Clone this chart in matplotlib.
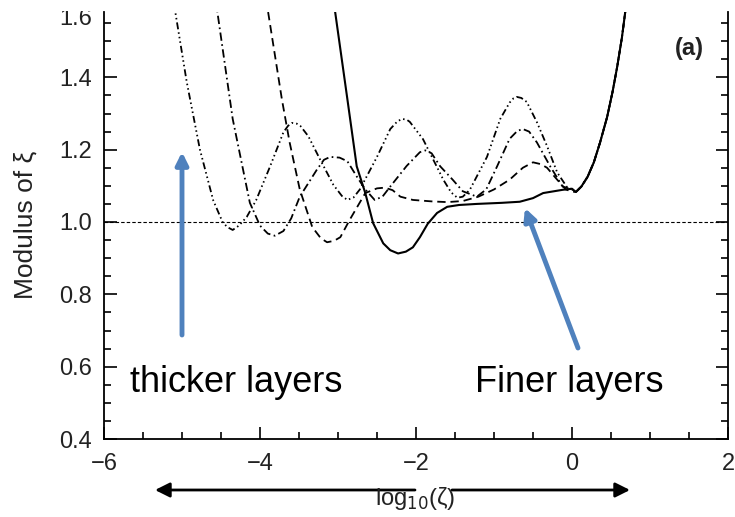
import matplotlib
matplotlib.use("Agg")
import matplotlib.pyplot as plt
from matplotlib.patches import Rectangle, FancyArrowPatch
import numpy as np

plt.rcParams['font.family'] = ['Liberation Sans', 'DejaVu Sans']
plt.rcParams['lines.scale_dashes'] = False

# ---- data ----
A_x = [-5.18, -5.09, -4.94, -4.77, -4.6, -4.48, -4.42, -4.35, -4.27, -4.17, -4.05, -3.87, -3.7, -3.64, -3.59,
       -3.53, -3.48, -3.38, -3.23, -3.06, -2.95, -2.88, -2.8, -2.72, -2.5, -2.33, -2.24, -2.18, -2.12, -2.08, -1.91, -1.78,
       -1.65, -1.55, -1.47, -1.4, -1.31, -1.09, -0.92, -0.8, -0.75, -0.71, -0.65, -0.58, -0.45, -0.32, -0.19, -0.06, 0.0]
A_y = [1.70, 1.586, 1.388, 1.20, 1.06, 1.0, 0.986, 0.978, 0.99, 1.014, 1.06, 1.154, 1.248, 1.266, 1.274,
       1.272, 1.265, 1.237, 1.173, 1.103, 1.072, 1.061, 1.068, 1.09, 1.18, 1.257, 1.278, 1.285, 1.283, 1.277, 1.229, 1.173,
       1.117, 1.082, 1.067, 1.07, 1.089, 1.18, 1.285, 1.33, 1.342, 1.346, 1.343, 1.332, 1.276, 1.21, 1.137, 1.095, 1.09]

B_x = [-4.63, -4.55, -4.35, -4.26, -4.13, -4.0, -3.9, -3.81, -3.7, -3.6, -3.49, -3.27, -3.18, -3.1, -2.98,
       -2.88, -2.76, -2.65, -2.53, -2.43, -2.33, -2.12, -1.95, -1.88, -1.8, -1.69, -1.53, -1.4, -1.22,
       -1.1, -0.96, -0.8, -0.7, -0.63, -0.55, -0.45, -0.28, -0.12, 0.0]
B_y = [1.70, 1.586, 1.285, 1.19, 1.053, 0.99, 0.968, 0.962, 0.975, 1.01, 1.07, 1.145, 1.172, 1.18, 1.178,
       1.168, 1.126, 1.09, 1.061, 1.07, 1.098, 1.155, 1.193, 1.198, 1.19, 1.154, 1.117, 1.085, 1.07,
       1.09, 1.154, 1.23, 1.252, 1.257, 1.25, 1.22, 1.154, 1.098, 1.09]

C_x = [-3.98, -3.9, -3.72, -3.62, -3.49, -3.33, -3.22, -3.14, -3.05, -2.97, -2.85, -2.65, -2.5, -2.4,
       -2.3, -2.2, -2.04, -1.8, -1.6, -1.4, -1.2, -1.0, -0.8, -0.63, -0.5, -0.4, -0.32, -0.19, -0.08, 0.0]
C_y = [1.70, 1.586, 1.34, 1.22, 1.09, 0.986, 0.955, 0.944, 0.948, 0.958, 1.006, 1.08, 1.093, 1.095,
       1.088, 1.07, 1.061, 1.057, 1.055, 1.058, 1.07, 1.09, 1.117, 1.15, 1.165, 1.16, 1.15, 1.117, 1.09, 1.084]

D_x = [-3.11, -3.04, -2.88, -2.76, -2.65, -2.55, -2.42, -2.33, -2.23, -2.13, -2.04, -1.95, -1.85,
       -1.73, -1.6, -1.45, -1.22, -0.9, -0.67, -0.5, -0.37, -0.12, 0.0]
D_y = [1.70, 1.586, 1.34, 1.154, 1.08, 0.997, 0.941, 0.922, 0.913, 0.918, 0.93, 0.958, 0.995,
       1.025, 1.042, 1.047, 1.05, 1.053, 1.056, 1.066, 1.08, 1.089, 1.092]

rise_x = [0.05, 0.12, 0.2, 0.28, 0.36, 0.45, 0.52, 0.58, 0.64, 0.7, 0.76]
rise_y = [1.083, 1.098, 1.125, 1.165, 1.22, 1.29, 1.36, 1.43, 1.51, 1.61, 1.72]

ref_level = 1.0
x_ticks = [-6, -4, -2, 0, 2]
y_ticks = [0.4, 0.6, 0.8, 1.0, 1.2, 1.4, 1.6]

# ---- figure ----
W, H = 735, 517
fig = plt.figure(figsize=(W / 100, H / 100), dpi=100)
ax_l, ax_r, ax_top, ax_bot = 104, 728, 12, 439
ax = fig.add_axes([ax_l / W, 1 - ax_bot / H, (ax_r - ax_l) / W, (ax_bot - ax_top) / H])
ax.set_xlim(-6, 2)
ax.set_ylim(0.4, 1.0 + (222 - ax_top) / ((ax_bot - 222) / 0.6))

styles = [
    (A_x, A_y, (0, (5, 2.2, 1.1, 2.2, 1.1, 2.2, 1.1, 2.2)), 1.3),
    (B_x, B_y, (0, (6, 2.5, 1.2, 2.5)), 1.3),
    (C_x, C_y, (0, (6, 3.5)), 1.3),
    (D_x, D_y, '-', 1.5),
]
for xs, ys, ls, lw in styles:
    ax.plot(list(xs) + rise_x, list(ys) + rise_y, color='black', lw=lw, linestyle=ls)

ax.axhline(ref_level, color='black', lw=0.8, linestyle=(0, (2.5, 1.5)))

ax.spines['top'].set_visible(False)
for s in ['left', 'right', 'bottom']:
    ax.spines[s].set_linewidth(1.3)
ax.set_xticks(x_ticks)
ax.set_yticks(y_ticks[:-1])
ax.set_xticks(np.arange(-6, 2.01, 0.5), minor=True)
ax.set_yticks(np.arange(0.4, 1.56, 0.05), minor=True)
ax.yaxis.set_major_formatter(matplotlib.ticker.FormatStrFormatter('%.1f'))
ax.tick_params(which='both', direction='in', right=True, top=False, width=1.2, colors='black',
               labelcolor='#222222', labelsize=17)
ax.tick_params(which='major', length=9)
ax.tick_params(which='minor', length=5)
ax.tick_params(axis='y', pad=9)
ax.tick_params(axis='x', pad=10)

# partially visible top tick label (cut by the image edge in the reference)
fig.text(92 / W, 1 - 25 / H, '%.1f' % y_ticks[-1], ha='right', va='baseline', fontsize=17,
         color='#222222')
fig.patches.append(Rectangle((0, 1 - 11 / H), 1, 11 / H, transform=fig.transFigure,
                             facecolor='white', edgecolor='none', zorder=10))

fig.text(26 / W, 1 - 225 / H, 'Modulus of ξ', rotation=90, ha='center', va='center',
         fontsize=19, color='#222222')
fig.text(689 / W, 1 - 48 / H, '(a)', ha='center', va='center', fontsize=17,
         fontweight='bold', color='#222222')

# annotations
fig.text(130 / W, 1 - 383 / H, 'thicker layers', ha='left', va='center', fontsize=26)
fig.text(475 / W, 1 - 383 / H, 'Finer layers', ha='left', va='center', fontsize=26)

blue = '#4F81BD'
def arrow(x0, y0, x1, y1, color, lw, ms):
    fig.add_artist(FancyArrowPatch(
        (x0 / W, 1 - y0 / H), (x1 / W, 1 - y1 / H), transform=fig.transFigure,
        arrowstyle='-|>', mutation_scale=ms, color=color, lw=lw, shrinkA=0, shrinkB=0))

arrow(182, 335, 182, 152, blue, 3.5, 18)
arrow(578, 348, 525, 208, blue, 3.5, 18)
arrow(415, 490, 155, 490, 'black', 2.0, 22)
arrow(452, 490, 630, 490, 'black', 2.0, 22)

fig.text(415 / W, 1 - 498 / H, 'log$_{10}$(ζ)', ha='center', va='center', fontsize=17,
         color='#222222')

fig.savefig('out.png', dpi=100)
